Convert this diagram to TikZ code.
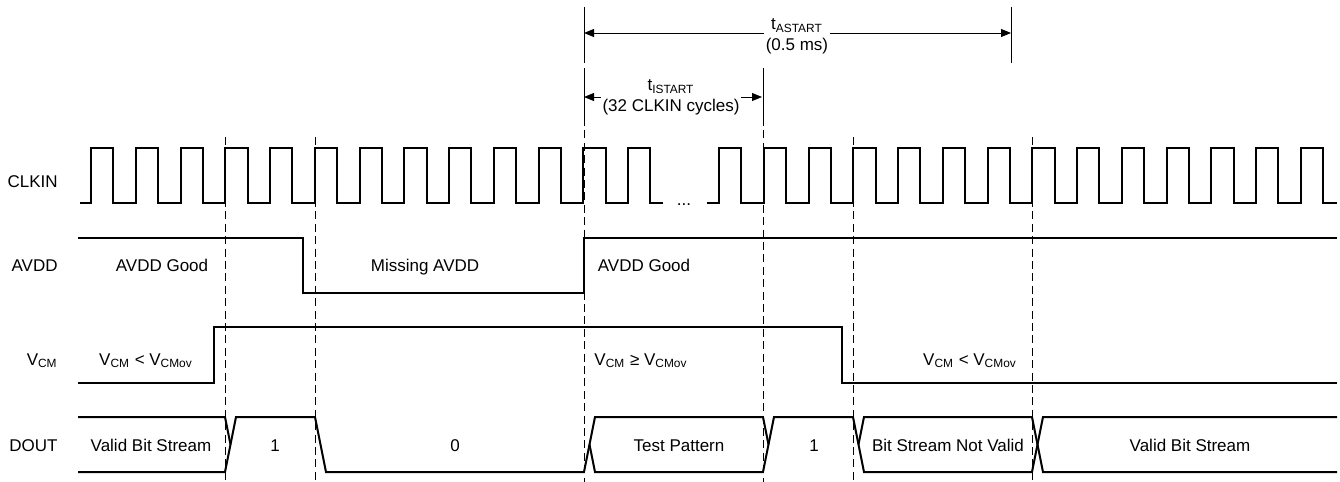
\documentclass[tikz,border=0pt]{standalone}
\usepackage{fontspec}
\setmainfont{Liberation Sans}
\usetikzlibrary{arrows.meta}
\tikzstyle{signal} = [line width=1pt, line join=miter]
\tikzstyle{guide} = [line width=0.5pt, dash pattern=on 4pt off 2.2pt]
\tikzstyle{dimline} = [line width=0.5pt]
\tikzstyle{dimarrow} = [line width=0.5pt,
    {Triangle[length=5pt,width=4pt]}-{Triangle[length=5pt,width=4pt]}]
\tikzstyle{state} = [font=\fontsize{8.5}{10.5}\selectfont, inner sep=1pt, anchor=base]
\tikzstyle{rowname} = [state, anchor=base east]
\tikzstyle{span} = [state, anchor=center, align=center, fill=white]

\begin{document}
\begin{tikzpicture}[x=0.5pt, y=-0.5pt]
    \useasboundingbox (0,0) rectangle (1340,482);

    \foreach \gx in {225,315,853,1032} \draw[guide] (\gx,137) -- (\gx,482);
    \foreach \gx in {584,763} \draw[guide] (\gx,118) -- (\gx,482);

    \node[rowname] (clkinName) at (60,187) {CLKIN};
    \node[rowname] (avddName) at (60,271) {AVDD};
    \node[rowname] (vcmName) at (60,365) {V\textsubscript{CM}};
    \node[rowname] (doutName) at (60,451) {DOUT};

    \draw[signal] (80,203) \foreach \k in {0,...,12}{
        -- ({91+44.75*\k},203) -- ++(0,-55) -- ++(22.4,0) -- ++(0,55)} -- (663,203);
    \draw[signal] (707,203) \foreach \k in {0,...,13}{
        -- ({719+44.75*\k},203) -- ++(0,-55) -- ++(22.4,0) -- ++(0,55)} -- (1337,203);
    \node[state] (clkGap) at (684,205) {...};

    \draw[signal] (78,238) -- (303,238) -- (303,293) -- (584,293) -- (584,238) -- (1337,238);
    \node[state] (avddGood) at (162,271) {AVDD Good};
    \node[state] (avddMissing) at (425,271) {Missing AVDD};
    \node[state] (avddBack) at (644,271) {AVDD Good};

    \draw[signal] (78,383) -- (214,383) -- (214,327) -- (842,327) -- (842,383) -- (1337,383);
    \node[state] (vcmLow) at (146,365) {V\textsubscript{CM} < V\textsubscript{CMov}};
    \node[state] (vcmHigh) at (641,365) {V\textsubscript{CM} ≥ V\textsubscript{CMov}};
    \node[state] (vcmLowAgain) at (970,365) {V\textsubscript{CM} < V\textsubscript{CMov}};

    \draw[signal] (78,417) -- (225,417) -- (230.5,444.5);
    \draw[signal] (78,472) -- (225,472) -- (236,417) -- (315,417) -- (326,472)
        -- (584,472) -- (595,417) -- (763,417) -- (768.5,444.5);
    \draw[signal] (589.5,444.5) -- (595,472) -- (763,472) -- (774,417) -- (853,417)
        -- (864,472) -- (1032,472) -- (1043,417) -- (1337,417);
    \draw[signal] (858.5,444.5) -- (864,417) -- (1032,417) -- (1043,472) -- (1337,472);
    \node[state] (validFirst) at (151,451) {Valid Bit Stream};
    \node[state] (oneFirst) at (275,451) {1};
    \node[state] (zero) at (455,451) {0};
    \node[state] (testPattern) at (679,451) {Test Pattern};
    \node[state] (oneSecond) at (814,451) {1};
    \node[state] (notValid) at (948,451) {Bit Stream Not Valid};
    \node[state] (validLast) at (1190,451) {Valid Bit Stream};

    \coordinate (astartL) at (584,33);
    \coordinate (astartR) at (1011,33);
    \draw[dimline] (584,7) -- (584,63);
    \draw[dimline] (1011,7) -- (1011,63);
    \draw[dimarrow] (astartL) -- (astartR);
    \node[span] (astart) at (797,36) {t\textsubscript{ASTART}\\(0.5 ms)};

    \coordinate (istartL) at (584,97);
    \coordinate (istartR) at (762,97);
    \draw[dimline] (584,68) -- (584,118);
    \draw[dimline] (763,68) -- (763,118);
    \draw[dimarrow] (istartL) -- (istartR);
    \node[span] (istart) at (671,97) {t\textsubscript{ISTART}\\(32 CLKIN cycles)};
\end{tikzpicture}
\end{document}
